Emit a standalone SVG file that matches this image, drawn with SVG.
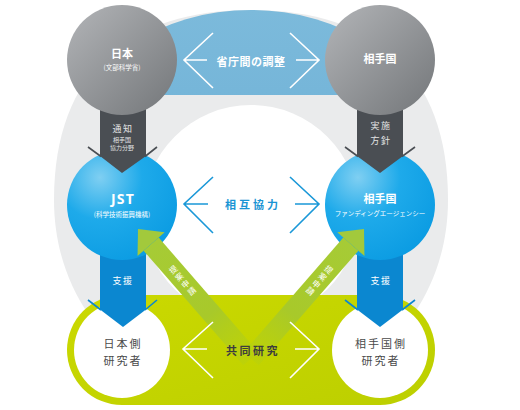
<svg xmlns="http://www.w3.org/2000/svg" width="520" height="410" viewBox="0 0 520 410">
<defs>
<linearGradient id="grayC" x1="0" y1="0" x2="1" y2="1">
<stop offset="0" stop-color="#b3b5b8"/><stop offset="1" stop-color="#737679"/>
</linearGradient>
<radialGradient id="blueC" cx="0.3" cy="0.25" r="0.85">
<stop offset="0" stop-color="#7fcff2"/><stop offset="0.45" stop-color="#1eaaea"/><stop offset="1" stop-color="#0a9be2"/>
</radialGradient>
<linearGradient id="band" x1="0" y1="0" x2="0" y2="1">
<stop offset="0" stop-color="#7cbadb"/><stop offset="1" stop-color="#6aaed5"/>
</linearGradient>
<linearGradient id="greenBg" x1="0" y1="0" x2="1" y2="1">
<stop offset="0" stop-color="#cbd900"/><stop offset="1" stop-color="#bccf00"/>
</linearGradient>
<linearGradient id="shaft" gradientUnits="userSpaceOnUse" x1="20" y1="0" x2="172" y2="0">
<stop offset="0" stop-color="#a6cb36"/><stop offset="0.6" stop-color="#a8c92a"/><stop offset="1" stop-color="#b9d10c" stop-opacity="0.6"/>
</linearGradient>
<clipPath id="bandClip"><rect x="0" y="0" width="520" height="95"/></clipPath>
</defs>
<style>
text{font-family:"Noto Sans CJK JP","Noto Sans",sans-serif;text-anchor:middle;dominant-baseline:central}
.t1{font-size:11px;font-weight:bold;fill:#fff}
.t2{font-size:6.5px;fill:#fff}
.ta{font-size:9px;fill:#e2e3e4;letter-spacing:1.5px}
.ts{font-size:6px;fill:#e2e3e4}
.tb{font-size:11px;fill:#4a4a4a;letter-spacing:2px}
.chw{fill:none;stroke:#fff;stroke-width:1.6}
.chb{fill:none;stroke:#1a98d8;stroke-width:1.6}
.darr{fill:#4a4e53}
.barr{fill:#0b87d0}
</style>

<!-- background ring -->
<path d="M251,10 C130,10 54,70 54,200 C54,320 150,400 251,400 C352,400 448,320 448,200 C448,70 372,10 251,10 Z" fill="#eaebec"/>
<circle cx="251" cy="213" r="108" fill="#fff"/>
<ellipse cx="251" cy="130" rx="170" ry="120" fill="url(#band)" clip-path="url(#bandClip)"/>
<rect x="67" y="295" width="368" height="110" rx="55" ry="55" fill="url(#greenBg)"/>

<g id="jp-researcher">
<circle cx="122" cy="350" r="48" fill="#fff"/>
<text class="tb" x="123" y="343">日本側</text>
<text class="tb" x="123" y="360">研究者</text>
</g>
<g id="partner-researcher">
<circle cx="380" cy="350" r="48" fill="#fff"/>
<text class="tb" x="381" y="343">相手国側</text>
<text class="tb" x="381" y="360">研究者</text>
</g>

<g id="connectors">
<g id="support-left">
<polygon class="barr" points="100,245 146,245 146,309.5 123,327 100,309.5"/>
<path d="M88,300 L101,310 M157,300 L145,310" stroke="#0b87d0" stroke-width="1.6"/>
<text class="ta" x="123" y="280" style="fill:#fff">支援</text>
</g>
<g id="support-right">
<polygon class="barr" points="357,245 403,245 403,309.5 380,327 357,309.5"/>
<path d="M345,300 L358,310 M415,300 L402,310" stroke="#0b87d0" stroke-width="1.6"/>
<text class="ta" x="381" y="280" style="fill:#fff">支援</text>
</g>
</g>

<g id="jst">
<circle cx="122" cy="205" r="55" fill="url(#blueC)"/>
<text x="123" y="198" style="font-family:'Noto Sans','DejaVu Sans',sans-serif;font-size:14px;font-weight:bold;fill:#fff;letter-spacing:1.2px">JST</text>
<text class="t2" x="122" y="214">(科学技術振興機構)</text>
</g>
<g id="funding-agency">
<circle cx="380" cy="205" r="55" fill="url(#blueC)"/>
<text class="t1" x="380" y="198">相手国</text>
<text class="t2" x="380" y="213">ファンディングエージェンシー</text>
</g>

<g id="connectors-2">
<g id="proposal-left" transform="translate(138,229) rotate(49)">
<polygon points="20,-10 172,-10 172,10 20,10" fill="url(#shaft)"/>
<polygon points="0,0 20,-18 20,18" fill="#a2c93c"/>
</g>
<text x="0" y="0" transform="translate(183,281) rotate(-41)" style="writing-mode:vertical-rl;font-size:8px;fill:#fff;letter-spacing:1.5px">提案申請</text>
<g id="proposal-right" transform="translate(364,229) rotate(131)">
<polygon points="20,-10 172,-10 172,10 20,10" fill="url(#shaft)"/>
<polygon points="0,0 20,-18 20,18" fill="#a2c93c"/>
</g>
<text x="0" y="0" transform="translate(319,281) rotate(41)" style="writing-mode:vertical-rl;font-size:8px;fill:#fff;letter-spacing:1.5px">提案申請</text>

<g id="notify">
<polygon class="darr" points="100,95 146,95 146,156 122,173 100,156"/>
<path d="M88,147 L101,156.5 M157,147 L145,156.5" stroke="#4a4e53" stroke-width="1.6"/>
<text class="ta" x="123" y="128">通知</text>
<text class="ts" x="122" y="139">相手国</text>
<text class="ts" x="122" y="147">協力分野</text>
</g>
<g id="policy">
<polygon class="darr" points="357,95 403,95 403,156 380,173 357,156"/>
<path d="M345,147 L358,156.5 M415,147 L402,156.5" stroke="#4a4e53" stroke-width="1.6"/>
<text class="ta" x="381" y="125">実施</text>
<text class="ta" x="381" y="140">方針</text>
</g>

<path class="chw" d="M213,33 L184,60 L213,88 M184,60 L207,60"/>
<path class="chw" d="M290,33 L319,60 L290,88 M319,60 L296,60"/>
<path class="chb" d="M213,177 L184,204 L213,233 M184,204 L208,204"/>
<path class="chb" d="M290,177 L319,204 L290,233 M319,204 L295,204"/>
<path class="chw" d="M213,322 L183,349 L213,378 M183,349 L207,349"/>
<path class="chw" d="M290,322 L319,349 L290,378 M319,349 L295,349"/>
<text x="251" y="61" style="font-size:11px;font-weight:bold;fill:#fff;letter-spacing:0.5px">省庁間の調整</text>
<text x="253" y="204" style="font-size:11px;font-weight:bold;fill:#1a94d4;letter-spacing:3px">相互協力</text>
<text x="253" y="350" style="font-size:11px;font-weight:bold;fill:#3d3d3d;letter-spacing:2.5px">共同研究</text>
</g>

<g id="japan-mext">
<circle cx="122" cy="60" r="55" fill="url(#grayC)"/>
<text class="t1" x="122" y="53">日本</text>
<text class="t2" x="122" y="67">(文部科学省)</text>
</g>
<g id="partner-country">
<circle cx="380" cy="60" r="55" fill="url(#grayC)"/>
<text class="t1" x="380" y="58">相手国</text>
</g>
</svg>
